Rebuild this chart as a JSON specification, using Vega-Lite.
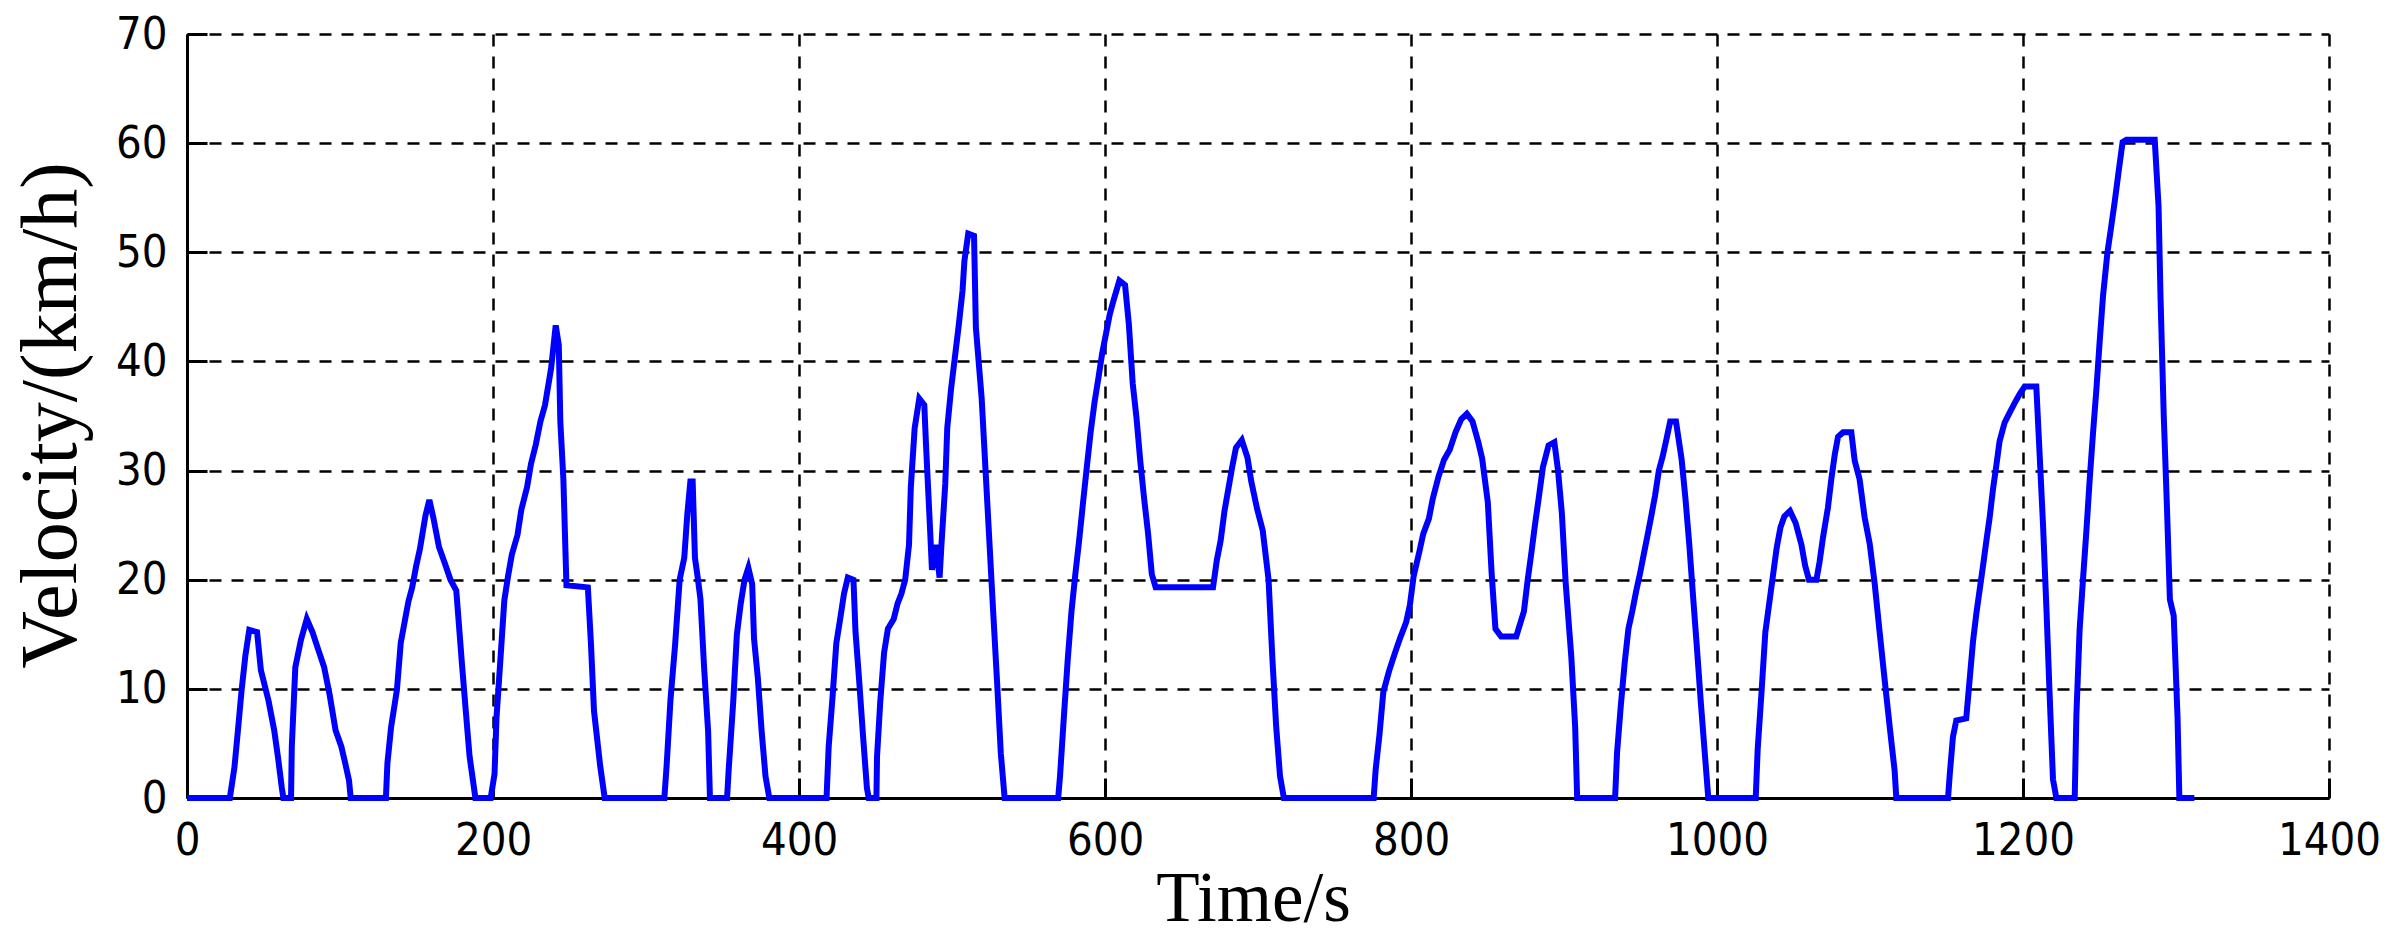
{
  "$schema": "https://vega.github.io/schema/vega-lite/v6.json",
  "width": 2142,
  "height": 764,
  "autosize": {"type": "none"},
  "padding": {"left": 187, "top": 34, "right": 70, "bottom": 139},
  "background": "white",
  "config": {"view": {"stroke": null}},
  "data": {"values": [
    {"t":0,"v":0},{"t":28,"v":0},{"t":31,"v":2.8},{"t":33.3,"v":6.2},{"t":35.7,"v":9.9},{"t":38.2,"v":13.1},{"t":40.7,"v":15.4},{"t":45.8,"v":15.2},{"t":48.3,"v":11.7},{"t":53.3,"v":8.9},{"t":57,"v":6.2},{"t":59.5,"v":3.7},{"t":62,"v":0.9},{"t":63,"v":0},{"t":68,"v":0},
    {"t":68.5,"v":4.7},{"t":70.8,"v":12},{"t":74.5,"v":14.5},{"t":78.3,"v":16.4},{"t":82,"v":15.2},{"t":86,"v":13.5},{"t":89.6,"v":12},{"t":93.3,"v":9.4},{"t":97.1,"v":6.2},{"t":100.9,"v":4.7},{"t":103.4,"v":3.2},{"t":105.9,"v":1.6},{"t":107,"v":0},{"t":130,"v":0},
    {"t":131,"v":3.2},{"t":133.4,"v":6.5},{"t":137.2,"v":9.9},{"t":139.7,"v":14.2},{"t":142.2,"v":16.1},{"t":144.7,"v":18},{"t":147.2,"v":19.3},{"t":149.7,"v":21.2},{"t":152.2,"v":22.8},{"t":155.9,"v":25.9},{"t":158.4,"v":27.3},{"t":161,"v":25.7},{"t":164.7,"v":23},{"t":168.5,"v":21.5},{"t":172.2,"v":20},{"t":176,"v":19},{"t":179.7,"v":12.3},{"t":182.2,"v":8},{"t":184.7,"v":3.8},{"t":188.5,"v":0},{"t":198.5,"v":0},
    {"t":201,"v":2.2},{"t":202.3,"v":7.4},{"t":204.8,"v":12.6},{"t":207.4,"v":18.1},{"t":209.8,"v":20.3},{"t":212.3,"v":22.3},{"t":216,"v":24.1},{"t":218.5,"v":26.4},{"t":222.3,"v":28.5},{"t":224.8,"v":30.6},{"t":228,"v":32.4},{"t":231,"v":34.5},{"t":234,"v":36},{"t":238,"v":39.4},{"t":241,"v":43.3},{"t":243,"v":41.5},{"t":244,"v":34.5},{"t":246,"v":29.2},{"t":248,"v":19.5},{"t":262,"v":19.3},{"t":264,"v":14.2},{"t":266,"v":8},{"t":270,"v":3},{"t":273,"v":0},{"t":312,"v":0},
    {"t":313.5,"v":3},{"t":316,"v":9},{"t":319,"v":14},{"t":322,"v":20},{"t":325,"v":22},{"t":327,"v":26},{"t":329,"v":29},{"t":330.5,"v":29},{"t":332,"v":22},{"t":334,"v":20},{"t":335.6,"v":18.2},{"t":338,"v":11.9},{"t":340.6,"v":6.1},{"t":341.8,"v":0},{"t":353,"v":0},
    {"t":354,"v":2.5},{"t":357,"v":8.8},{"t":359.4,"v":15},{"t":361.9,"v":17.8},{"t":364.4,"v":20},{"t":366.9,"v":21.1},{"t":369.4,"v":19.6},{"t":370.6,"v":14.6},{"t":373.1,"v":11},{"t":375.6,"v":6.1},{"t":378.1,"v":2},{"t":380.6,"v":0},{"t":418,"v":0},
    {"t":419.4,"v":4.7},{"t":421.9,"v":9.2},{"t":424.4,"v":14.2},{"t":426.9,"v":16.4},{"t":429.4,"v":18.7},{"t":431.9,"v":20.2},{"t":435.6,"v":20},{"t":436.9,"v":15.3},{"t":439.4,"v":10.6},{"t":441.9,"v":5.6},{"t":444.4,"v":0.9},{"t":445.6,"v":0},{"t":450.6,"v":0},
    {"t":451,"v":3.8},{"t":453.1,"v":8.8},{"t":455.6,"v":13.3},{"t":458.1,"v":15.5},{"t":461.9,"v":16.4},{"t":464.4,"v":17.8},{"t":466.9,"v":18.7},{"t":469.4,"v":20},{"t":471.9,"v":23.2},{"t":473.1,"v":28.5},{"t":475.6,"v":33.9},{"t":478.6,"v":36.6},{"t":481.9,"v":36},{"t":483.1,"v":32.1},{"t":485.1,"v":26.3},{"t":486.9,"v":20.9},{"t":489.4,"v":23.2},{"t":491.9,"v":20.2},{"t":493.1,"v":23.2},{"t":495.6,"v":28.8},{"t":496.9,"v":33.9},{"t":499.4,"v":37.5},{"t":501.9,"v":40.4},{"t":504.4,"v":43.3},{"t":506.9,"v":46.5},{"t":508.1,"v":49.2},{"t":510.6,"v":51.7},{"t":514.4,"v":51.5},{"t":515.6,"v":43.1},{"t":519.4,"v":36.6},{"t":521.9,"v":30.1},{"t":524.4,"v":23.6},{"t":526.9,"v":17.1},{"t":529.4,"v":10.8},{"t":531.9,"v":4.1},{"t":534.4,"v":0},{"t":569.4,"v":0},
    {"t":570.6,"v":2},{"t":573.1,"v":7.4},{"t":575.6,"v":12.6},{"t":578.1,"v":17.1},{"t":580.6,"v":20.5},{"t":583.1,"v":23.6},{"t":585.6,"v":27},{"t":588.1,"v":30.3},{"t":590.6,"v":33.5},{"t":593.1,"v":36.2},{"t":595.6,"v":38.4},{"t":598.1,"v":40.7},{"t":600.6,"v":42.5},{"t":603.1,"v":44.3},{"t":605.6,"v":45.6},{"t":609.4,"v":47.4},{"t":613.1,"v":47},{"t":615.6,"v":43.4},{"t":618.1,"v":38},{"t":620.6,"v":34.8},{"t":623.1,"v":30.8},{"t":625.6,"v":27.4},{"t":628.1,"v":24.3},{"t":630.6,"v":20.5},{"t":633.1,"v":19.3},{"t":670.6,"v":19.3},{"t":673.1,"v":21.8},{"t":675.6,"v":23.6},{"t":678.1,"v":26.3},{"t":680.6,"v":28.3},{"t":683.1,"v":30.3},{"t":685.6,"v":32.1},{"t":689.4,"v":32.8},{"t":693.1,"v":31.2},{"t":695.6,"v":29},{"t":699.4,"v":26.5},{"t":703.1,"v":24.5},{"t":706.9,"v":20},{"t":709.4,"v":12.8},{"t":711.9,"v":6.5},{"t":714.4,"v":2},{"t":716.9,"v":0},{"t":775.6,"v":0},
    {"t":776.9,"v":2.6},{"t":779.4,"v":5.8},{"t":781.9,"v":9.7},{"t":785.6,"v":11.6},{"t":789.3,"v":13.2},{"t":793,"v":14.7},{"t":796.8,"v":16.1},{"t":799.3,"v":17.7},{"t":801.7,"v":20.3},{"t":805.5,"v":22.6},{"t":808,"v":24.2},{"t":811.7,"v":25.6},{"t":814.2,"v":27.4},{"t":817.9,"v":29.4},{"t":821.6,"v":31},{"t":825.3,"v":31.9},{"t":829.1,"v":33.5},{"t":832.8,"v":34.7},{"t":836.5,"v":35.2},{"t":840.2,"v":34.5},{"t":844,"v":32.6},{"t":846.5,"v":31.1},{"t":850.2,"v":27.1},{"t":852.7,"v":20.6},{"t":855.2,"v":15.5},{"t":858.9,"v":14.8},{"t":868.8,"v":14.8},{"t":873.8,"v":17.1},{"t":876.3,"v":20},{"t":878.8,"v":22.6},{"t":881.2,"v":25.2},{"t":883.7,"v":27.7},{"t":886.2,"v":30.3},{"t":889.9,"v":32.3},{"t":893.7,"v":32.6},{"t":896.1,"v":30},{"t":898.6,"v":26.1},{"t":901.1,"v":19.7},{"t":904.8,"v":12.9},{"t":907.3,"v":6.5},{"t":908.6,"v":0},{"t":933.4,"v":0},
    {"t":934.7,"v":4.2},{"t":937.1,"v":8.4},{"t":939.6,"v":12.3},{"t":942.1,"v":15.5},{"t":944.6,"v":17.1},{"t":947.1,"v":18.9},{"t":949.6,"v":20.5},{"t":952.1,"v":22.3},{"t":954.5,"v":24},{"t":957,"v":25.8},{"t":959.5,"v":27.7},{"t":962,"v":30},{"t":964.5,"v":31.3},{"t":967,"v":32.9},{"t":969.4,"v":34.5},{"t":973.2,"v":34.5},{"t":976.9,"v":31},{"t":979.4,"v":27.4},{"t":981.9,"v":23.2},{"t":984.4,"v":18.4},{"t":986.8,"v":13.9},{"t":989.3,"v":9},{"t":991.8,"v":4.5},{"t":994.3,"v":0},{"t":1025.3,"v":0},
    {"t":1026.6,"v":4.5},{"t":1029.1,"v":9.7},{"t":1031.6,"v":15.2},{"t":1034,"v":17.7},{"t":1036.5,"v":20.3},{"t":1039,"v":22.9},{"t":1041.5,"v":24.8},{"t":1044,"v":25.8},{"t":1047.7,"v":26.3},{"t":1051.4,"v":25.2},{"t":1055.2,"v":23.2},{"t":1057.6,"v":21.3},{"t":1060.1,"v":20},{"t":1065,"v":20},{"t":1067,"v":21.6},{"t":1069.3,"v":23.9},{"t":1072.5,"v":26.6},{"t":1074.7,"v":29.2},{"t":1076.9,"v":31.4},{"t":1079.1,"v":33.1},{"t":1082.4,"v":33.5},{"t":1087.8,"v":33.5},{"t":1090,"v":30.9},{"t":1093.2,"v":29.2},{"t":1096.5,"v":25.7},{"t":1099.8,"v":23.3},{"t":1103.1,"v":19.6},{"t":1106.3,"v":15.2},{"t":1109.6,"v":10.8},{"t":1112.9,"v":6.5},{"t":1116.1,"v":2.5},{"t":1117.2,"v":0},{"t":1151,"v":0},
    {"t":1152.1,"v":2.1},{"t":1154.2,"v":5.6},{"t":1156.4,"v":7.1},{"t":1162.9,"v":7.3},{"t":1165.1,"v":10.8},{"t":1167.3,"v":14.3},{"t":1169.5,"v":16.9},{"t":1171.7,"v":19.1},{"t":1173.9,"v":21.3},{"t":1176,"v":23.5},{"t":1178.2,"v":25.7},{"t":1180.4,"v":28.3},{"t":1182.6,"v":30.5},{"t":1184.7,"v":32.7},{"t":1188,"v":34.4},{"t":1191.3,"v":35.3},{"t":1194.6,"v":36.2},{"t":1197.8,"v":37},{"t":1201.1,"v":37.7},{"t":1208.7,"v":37.7},{"t":1210.9,"v":31.4},{"t":1213.1,"v":25},{"t":1215.3,"v":17.4},{"t":1217.4,"v":9.5},{"t":1219.6,"v":1.7},{"t":1221.8,"v":0},{"t":1233.8,"v":0},
    {"t":1234.9,"v":7.6},{"t":1237,"v":15.4},{"t":1239.2,"v":20},{"t":1241.4,"v":24.4},{"t":1243.6,"v":29.2},{"t":1245.8,"v":33.5},{"t":1248,"v":37.5},{"t":1250.1,"v":41.8},{"t":1252.3,"v":46},{"t":1255.2,"v":50},{"t":1257.7,"v":52.4},{"t":1260.1,"v":54.8},{"t":1262.6,"v":57.5},{"t":1265.1,"v":60.1},{"t":1267.6,"v":60.3},{"t":1286.1,"v":60.3},{"t":1288.6,"v":54.2},{"t":1289.9,"v":45.8},{"t":1292,"v":35},{"t":1294,"v":27},{"t":1296,"v":18.2},{"t":1298.5,"v":16.7},{"t":1301,"v":7.4},{"t":1302.2,"v":0},{"t":1312,"v":0}
  ]},
  "mark": {"type": "line", "color": "#0000FF", "strokeWidth": 6, "strokeJoin": "miter", "clip": false},
  "encoding": {
    "x": {
      "field": "t", "type": "quantitative",
      "scale": {"domain": [0, 1400], "nice": false, "zero": true},
      "axis": {
        "values": [0, 200, 400, 600, 800, 1000, 1200, 1400],
        "format": "d",
        "domain": true, "domainColor": "black", "domainWidth": 3,
        "grid": true, "gridColor": "black", "gridDash": [12, 10], "gridWidth": 2.5, "gridOpacity": 1,
        "ticks": true, "tickColor": "black", "tickWidth": 3, "tickSize": -20,
        "labelFont": "Liberation Sans Narrow, Arial Narrow, DejaVu Sans Condensed, sans-serif",
        "labelFontSize": 45, "labelColor": "black", "labelPadding": 40,
        "labelFlush": false, "labelOverlap": false,
        "title": "Time/s",
        "titleFont": "Liberation Serif", "titleFontSize": 71, "titleFontWeight": "normal", "titleColor": "black",
        "titleX": 1066, "titleY": 122, "titleBaseline": "alphabetic", "titleAlign": "center"
      }
    },
    "y": {
      "field": "v", "type": "quantitative",
      "scale": {"domain": [0, 70], "nice": false},
      "axis": {
        "values": [0, 10, 20, 30, 40, 50, 60, 70],
        "domain": true, "domainColor": "black", "domainWidth": 3,
        "grid": true, "gridColor": "black", "gridDash": [12, 10], "gridWidth": 2.5, "gridOpacity": 1,
        "ticks": true, "tickColor": "black", "tickWidth": 3, "tickSize": -20,
        "labelFont": "Liberation Sans Narrow, Arial Narrow, DejaVu Sans Condensed, sans-serif",
        "labelFontSize": 45, "labelColor": "black", "labelPadding": 40,
        "labelFlush": false, "labelOverlap": false,
        "title": "Velocity/(km/h)",
        "titleFont": "Liberation Serif", "titleFontSize": 80, "titleFontWeight": "normal", "titleColor": "black",
        "titleAngle": 270, "titleX": -112, "titleY": 381, "titleBaseline": "alphabetic", "titleAlign": "center"
      }
    }
  }
}
